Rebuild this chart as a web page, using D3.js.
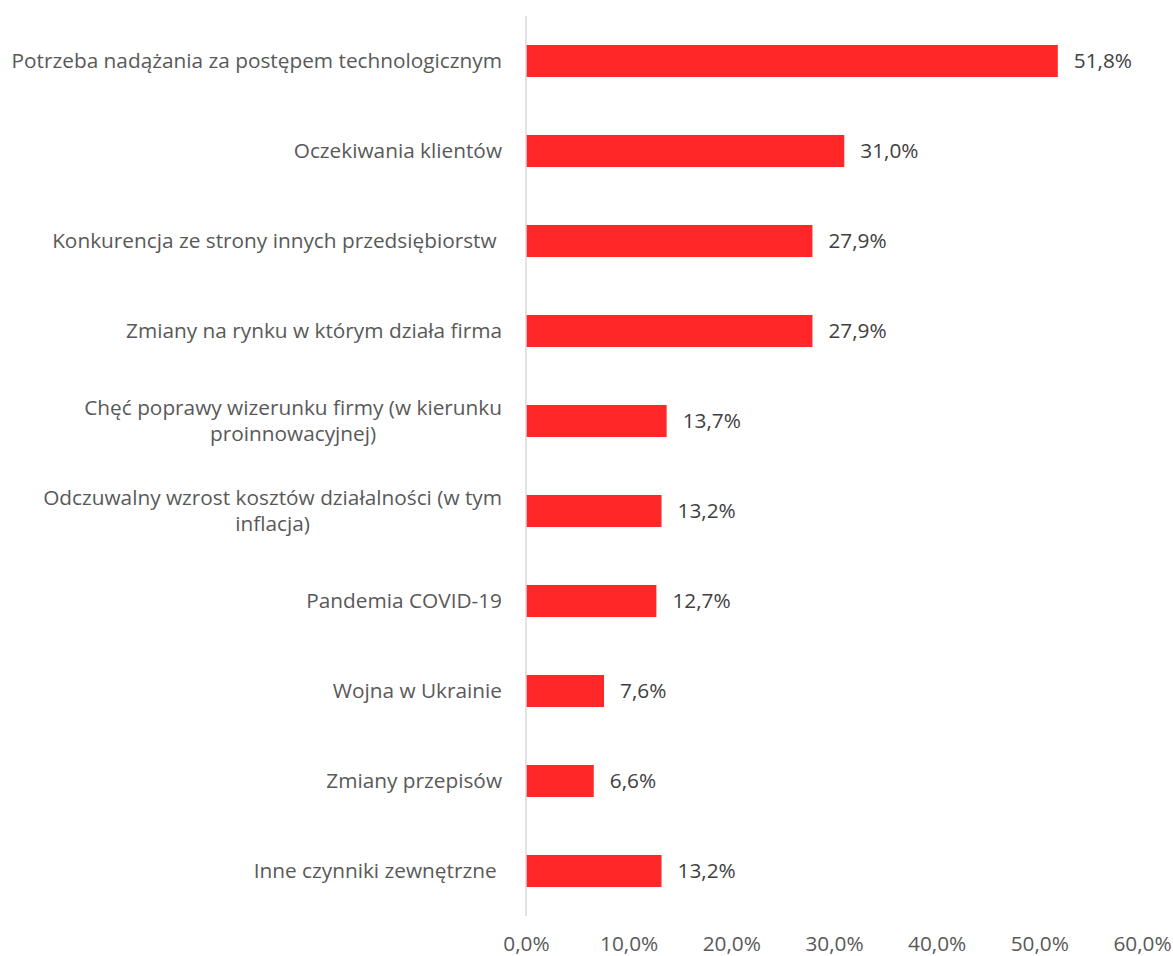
<!DOCTYPE html>
<html><head><meta charset="utf-8">
<script src="https://cdn.jsdelivr.net/npm/d3@7"></script>
<style>body{margin:0;background:#fff}svg text{white-space:pre}</style>
</head><body>
<script>
const categories = [
  ["Potrzeba nadążania za postępem technologicznym"],
  ["Oczekiwania klientów"],
  ["Konkurencja ze strony innych przedsiębiorstw "],
  ["Zmiany na rynku w którym działa firma"],
  ["Chęć poprawy wizerunku firmy (w kierunku", "proinnowacyjnej)"],
  ["Odczuwalny wzrost kosztów działalności (w tym", "inflacja)"],
  ["Pandemia COVID-19"],
  ["Wojna w Ukrainie"],
  ["Zmiany przepisów"],
  ["Inne czynniki zewnętrzne "]
];
const values = [51.8, 31.0, 27.9, 27.9, 13.7, 13.2, 12.7, 7.6, 6.6, 13.2];
const ticks = [0, 10, 20, 30, 40, 50, 60];

const W = 1173, H = 956;
const font = "'Open Sans', sans-serif";
const FS = 20.8;
const fmt = v => v.toFixed(1).replace(".", ",") + "%";

const svg = d3.select("body").append("svg").attr("width", W).attr("height", H);
const x = d3.scaleLinear().domain([0, 60]).range([526, 1142]);
const y = d3.scaleBand().domain(d3.range(categories.length)).range([16, 916]).paddingInner(0.644).paddingOuter(0.322);

svg.selectAll("rect.bar").data(values).join("rect")
  .attr("x", x(0)).attr("y", (d, i) => y(i))
  .attr("width", d => x(d) - x(0)).attr("height", y.bandwidth())
  .attr("fill", "#ff2727");

svg.append("line").attr("x1", x(0)).attr("x2", x(0)).attr("y1", 16).attr("y2", 916)
  .attr("stroke", "#d9d9d9").attr("stroke-width", 1.5);

svg.selectAll("text.val").data(values).join("text")
  .attr("x", d => x(d) + 16).attr("y", (d, i) => y(i) + y.bandwidth() / 2)
  .attr("dy", "0.35em").attr("font-family", font).attr("font-size", FS).attr("fill", "#404040")
  .text(d => fmt(d));

categories.forEach((lines, i) => {
  const cy = y(i) + y.bandwidth() / 2;
  const g = svg.append("g");
  if (lines.length === 1) {
    g.append("text").attr("x", 502).attr("y", cy).attr("dy", "0.35em")
      .attr("text-anchor", "end").attr("font-family", font).attr("font-size", FS).attr("fill", "#595959")
      .text(lines[0]);
  } else {
    const t1 = g.append("text").attr("x", 502).attr("y", cy - 13).attr("dy", "0.35em")
      .attr("text-anchor", "end").attr("font-family", font).attr("font-size", FS).attr("fill", "#595959")
      .text(lines[0]);
    const w = t1.node().getComputedTextLength();
    g.append("text").attr("x", 502 - w / 2).attr("y", cy + 13).attr("dy", "0.35em")
      .attr("text-anchor", "middle").attr("font-family", font).attr("font-size", FS).attr("fill", "#595959")
      .text(lines[1]);
  }
});

const xAxis = d3.axisBottom(x).tickValues(ticks).tickSize(0).tickFormat(d => fmt(d));
const ax = svg.append("g").attr("transform", "translate(0,933)").call(xAxis);
ax.select(".domain").remove();
ax.selectAll("text").attr("font-family", font).attr("font-size", FS).attr("fill", "#595959");
</script>
</body></html>
